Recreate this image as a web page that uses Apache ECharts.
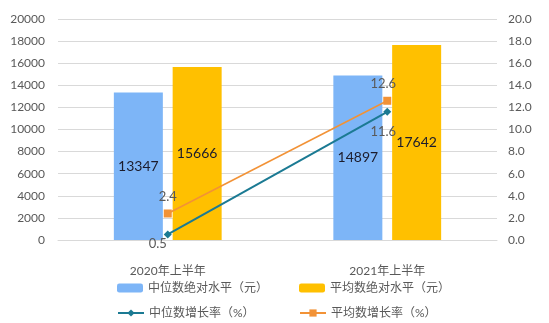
<!DOCTYPE html>
<html><head><meta charset="utf-8">
<script src="https://cdn.jsdelivr.net/npm/echarts@6/dist/echarts.min.js"></script>
<style>html,body{margin:0;padding:0;background:#fff}#c{width:549px;height:323px}</style>
</head><body><div id="c"></div>
<script>
const categories = ['2020年上半年', '2021年上半年'];
const medianLevel = [13347, 14897];
const meanLevel = [15666, 17642];
const medianGrowth = [0.5, 11.6];
const meanGrowth = [2.4, 12.6];
const leftTicks = {min: 0, max: 20000, interval: 2000};
const rightTicks = {min: 0, max: 20, interval: 2};

const font = 'Lato, "Noto Sans CJK SC", sans-serif';
const legendText = {color: '#595959', fontSize: 12, fontFamily: font};
function leg(name, left, top) {
  return {left: left, top: top, itemWidth: 26, itemHeight: 9, selectedMode: false,
          textStyle: legendText, data: [name]};
}
const chart = echarts.init(document.getElementById('c'));
chart.setOption({
  animation: false,
  textStyle: {fontFamily: font},
  grid: {left: 58, right: 52, top: 19, bottom: 83},
  legend: [
    leg('中位数绝对水平（元）', 112, 277),
    leg('平均数绝对水平（元）', 294, 277),
    leg('中位数增长率（%）', 112, 302),
    leg('平均数增长率（%）', 294, 302)
  ],
  xAxis: {
    type: 'category', data: categories,
    axisLine: {show: true, lineStyle: {color: '#d9d9d9'}},
    axisTick: {show: false},
    axisLabel: {color: '#595959', fontSize: 12, margin: 25, fontFamily: font}
  },
  yAxis: [
    {type: 'value', min: leftTicks.min, max: leftTicks.max, interval: leftTicks.interval,
     axisLabel: {color: '#595959', fontSize: 12, margin: 13, fontFamily: font, formatter: v => String(v)},
     splitLine: {lineStyle: {color: '#d9d9d9'}}, axisLine: {show: false}, axisTick: {show: false}},
    {type: 'value', min: rightTicks.min, max: rightTicks.max, interval: rightTicks.interval,
     axisLabel: {color: '#595959', fontSize: 12, margin: 11, fontFamily: font,
                 formatter: v => v.toFixed(1)},
     splitLine: {show: false}, axisLine: {show: false}, axisTick: {show: false}}
  ],
  series: [
    {name: '中位数绝对水平（元）', type: 'bar', data: medianLevel, barWidth: 49, barGap: '20%',
     itemStyle: {color: '#7DB5F7'},
     label: {show: true, position: 'inside', color: '#1c1c2c', fontSize: 14, fontFamily: font}},
    {name: '平均数绝对水平（元）', type: 'bar', data: meanLevel, barWidth: 49,
     itemStyle: {color: '#FFC000'},
     label: {show: true, position: 'inside', color: '#1c1c2c', fontSize: 14, fontFamily: font}},
    {name: '中位数增长率（%）', type: 'line', yAxisIndex: 1, data: medianGrowth,
     symbol: 'diamond', symbolSize: 8, itemStyle: {color: '#1B7A93'}, lineStyle: {color: '#1B7A93', width: 2},
     label: {show: true, color: '#595959', fontSize: 13, fontFamily: font,
       position: 'bottom',
       formatter: p => p.value.toFixed(1)},
     labelLayout: p => p.dataIndex === 0 ? {dx: -10, dy: -6} : {dx: -4, dy: 4}},
    {name: '平均数增长率（%）', type: 'line', yAxisIndex: 1, data: meanGrowth,
     symbol: 'rect', symbolSize: 8, itemStyle: {color: '#F29236'}, lineStyle: {color: '#F29236', width: 1.5},
     label: {show: true, color: '#595959', fontSize: 13, fontFamily: font, position: 'top', distance: 6,
       formatter: p => p.value.toFixed(1)},
     labelLayout: p => p.dataIndex === 1 ? {dx: -4} : {}}
  ]
});
</script></body></html>
